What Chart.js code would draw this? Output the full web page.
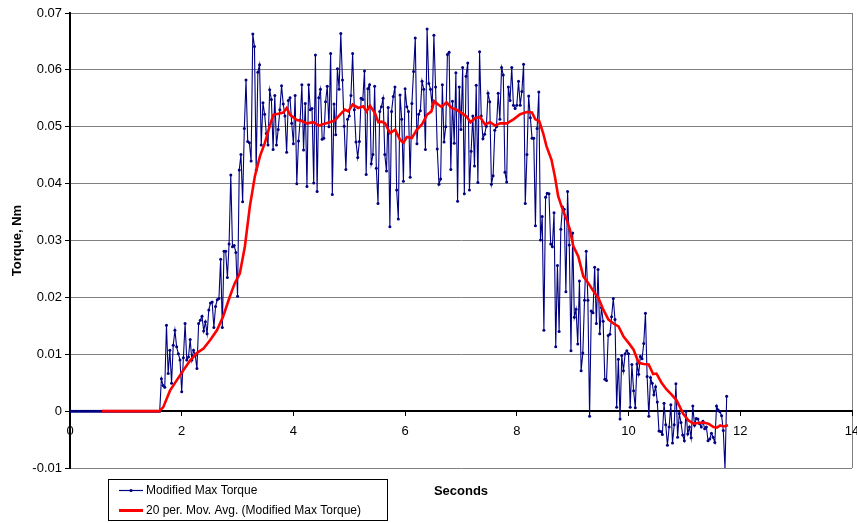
<!DOCTYPE html>
<html>
<head>
<meta charset="utf-8">
<script src="https://cdn.jsdelivr.net/npm/chart.js@4.4.1/dist/chart.umd.min.js"></script>
<style>
  html, body { margin: 0; padding: 0; background: #fff; }
  #wrap { width: 857px; height: 523px; }
</style>
</head>
<body>
<div id="wrap"><canvas id="torque-chart" width="857" height="523"></canvas></div>
<script>
// Sampling interval of the torque log (seconds per sample)
const sampleStep = 0.0303;

// Modified Max Torque, one value per sample (Nm)
const torqueValues = [
  // idle, before the load starts
  0, 0, 0, 0, 0, 0, 0, 0, 0, 0, 0, 0, 0, 0, 0, 0, 0, 0, 0, 0,
  0, 0, 0, 0, 0, 0, 0, 0, 0, 0, 0, 0, 0, 0, 0, 0, 0, 0, 0, 0,
  0, 0, 0, 0, 0, 0, 0, 0, 0, 0, 0, 0, 0, 0,
  // ramp up
  0.0057, 0.0045, 0.0042, 0.0151, 0.0066, 0.0107, 0.0049, 0.0116, 0.0142, 0.0113,
  0.0101, 0.009, 0.0034, 0.0094, 0.0154, 0.009, 0.0095, 0.0126, 0.009, 0.0107,
  0.0098, 0.0075, 0.0154, 0.016, 0.0167, 0.0141, 0.0157, 0.0136, 0.0178, 0.019,
  0.0192, 0.0147, 0.0184, 0.0196, 0.0198, 0.0267, 0.0147, 0.0281, 0.0281, 0.0235,
  0.0294, 0.0415, 0.0289, 0.0291, 0.0279, 0.0202, 0.0424, 0.0451, 0.0368, 0.0497,
  0.0582, 0.0474, 0.0472, 0.044, 0.0663, 0.0641, 0.0424, 0.0596, 0.0609, 0.0468,
  0.0542, 0.0522, 0.0488, 0.0468,
  // plateau, first half
  0.0565, 0.0548, 0.046, 0.0555, 0.0468, 0.0495, 0.053, 0.0572, 0.054, 0.0519,
  0.0455, 0.0546, 0.0551, 0.0506, 0.047, 0.0555, 0.04, 0.0475, 0.0512, 0.0574,
  0.0459, 0.0541, 0.0395, 0.0574, 0.053, 0.0532, 0.0401, 0.0626, 0.0386, 0.0551,
  0.0566, 0.0478, 0.048, 0.0544, 0.0571, 0.05, 0.0629, 0.0381, 0.054, 0.0486,
  0.0602, 0.0566, 0.0664, 0.0582, 0.0501, 0.0425, 0.0513, 0.0519, 0.0555, 0.0629,
  0.053, 0.0473, 0.0446, 0.0474, 0.055, 0.0548, 0.0598, 0.0416, 0.0567, 0.0574,
  0.0435, 0.0451, 0.0571, 0.0427, 0.0365, 0.0527, 0.0535, 0.055, 0.0451, 0.0422,
  0.0534, 0.0324, 0.0527, 0.0553, 0.057, 0.0389, 0.0338,
  // plateau, second half
  0.0556, 0.0513, 0.0404, 0.0567, 0.0535, 0.0527, 0.0411, 0.0541, 0.0597, 0.0656,
  0.047, 0.0522, 0.0528, 0.058, 0.0566, 0.046, 0.0672, 0.0576, 0.0566, 0.0535,
  0.0661, 0.057, 0.0461, 0.0399, 0.0408, 0.0574, 0.0473, 0.05, 0.0627, 0.0631,
  0.0425, 0.0545, 0.0471, 0.0595, 0.0369, 0.057, 0.0495, 0.0604, 0.0382, 0.0589,
  0.0612, 0.0389, 0.0457, 0.0519, 0.0431, 0.0573, 0.0402, 0.0632, 0.0519, 0.0479,
  0.0487, 0.0501, 0.0559, 0.0544, 0.0399, 0.0414, 0.0494, 0.05, 0.0559, 0.0513,
  0.0604, 0.0591, 0.042, 0.0403, 0.057, 0.0546, 0.0604, 0.0538, 0.0532, 0.0538,
  0.058, 0.0538, 0.0562, 0.061, 0.0365, 0.0451, 0.0554,
  // ramp down
  0.0516, 0.048, 0.048, 0.0326, 0.0497, 0.0561, 0.0301, 0.0342, 0.0142, 0.0376,
  0.0383, 0.0382, 0.0294, 0.0289, 0.0349, 0.0113, 0.0256, 0.014, 0.032, 0.0359,
  0.0355, 0.021, 0.0386, 0.0292, 0.0106, 0.0313, 0.0165, 0.0179, 0.0118, 0.0229,
  0.0071, 0.0102, 0.0195, 0.0281, 0.0195, -0.0009, 0.0176, 0.0173, 0.0253, 0.0154,
  0.0249, 0.0136, 0.0182, 0.0158, 0.0056, 0.0054, 0.0133, 0.0135, 0.0166, 0.0198,
  0.0161, 0.0007, 0.0091, -0.0014, 0.0098, 0.0071, 0.0101, 0.0106, 0.0101, 0.0007,
  0.0082, 0.0036, 0.0006, 0.0083,
  // tail
  0.0065, 0.0096, 0.0092, 0.0119, 0.0172, 0.0061, -0.0009, 0.0059, 0.0049, 0.0029,
  0.0043, 0.0016, -0.0035, -0.0036, -0.0041, 0.0014, -0.0024, -0.006, -0.0028, 0.0011,
  -0.0056, -0.0024, 0.0048, -0.0046, -0.0004, -0.002, -0.0042, -0.0052, 0, -0.004,
  -0.0028, -0.0047, 0.0009, -0.0025, -0.0013, -0.0014, -0.0022, -0.0028, -0.0018, -0.0031,
  -0.0028, -0.0052, -0.0049, -0.0039, -0.0046, -0.0055, 0.0009, 0.0002, -0.0001, -0.0008,
  -0.0034, -0.0102, 0.0026
];

// 20 per. moving average
const avgTimes = [
  0.57, 1.60, 1.67, 1.79, 1.91, 2.03, 2.15, 2.27, 2.39, 2.51,
  2.63, 2.74, 2.86, 2.95, 3.04, 3.13, 3.22, 3.31, 3.40, 3.49,
  3.58, 3.64, 3.73, 3.82, 3.88, 3.94, 4.06, 4.15, 4.24, 4.36,
  4.45, 4.54, 4.65, 4.74, 4.83, 4.92, 4.98, 5.06, 5.16, 5.25,
  5.31, 5.37, 5.46, 5.52, 5.58, 5.64, 5.73, 5.82, 5.91, 5.97,
  6.03, 6.12, 6.21, 6.30, 6.39, 6.47, 6.52, 6.59, 6.65, 6.74,
  6.83, 6.92, 7.01, 7.10, 7.17, 7.25, 7.34, 7.43, 7.52, 7.61,
  7.70, 7.82, 7.94, 8.06, 8.18, 8.27, 8.33, 8.40, 8.47, 8.53,
  8.62, 8.68, 8.74, 8.80, 8.89, 8.95, 9.01, 9.10, 9.19, 9.28,
  9.37, 9.46, 9.55, 9.64, 9.73, 9.82, 9.91, 10.00, 10.09, 10.18,
  10.27, 10.36, 10.44, 10.50, 10.59, 10.68, 10.77, 10.86, 10.92, 10.98,
  11.07, 11.16, 11.25, 11.34, 11.43, 11.52, 11.58, 11.64, 11.70, 11.78
];
const avgValues = [
  0, 0, 0.0007, 0.0036, 0.0054, 0.0072, 0.0089, 0.0102, 0.011, 0.0125,
  0.0142, 0.0166, 0.0201, 0.0225, 0.0242, 0.0289, 0.036, 0.0413, 0.0448, 0.0472,
  0.0503, 0.0521, 0.0523, 0.0525, 0.0533, 0.0521, 0.0512, 0.051, 0.0506, 0.0508,
  0.0502, 0.0505, 0.0508, 0.0511, 0.0521, 0.053, 0.0527, 0.0539, 0.0533, 0.0536,
  0.0527, 0.0537, 0.0524, 0.0508, 0.0509, 0.0506, 0.0489, 0.0495, 0.0477, 0.0472,
  0.0482, 0.048, 0.0495, 0.0504, 0.0521, 0.0527, 0.0545, 0.0539, 0.0535, 0.0543,
  0.0533, 0.053, 0.0524, 0.0518, 0.0508, 0.0515, 0.0517, 0.0504, 0.0508, 0.0502,
  0.0506, 0.0506, 0.0513, 0.0522, 0.0526, 0.0525, 0.0513, 0.051, 0.0489, 0.0466,
  0.0442, 0.0413, 0.0378, 0.036, 0.0337, 0.0319, 0.029, 0.0272, 0.0237, 0.0225,
  0.0211, 0.0199, 0.0178, 0.0161, 0.0154, 0.0149, 0.0131, 0.012, 0.0108, 0.0085,
  0.0083, 0.0082, 0.0065, 0.0066, 0.005, 0.0038, 0.0029, 0.0019, 0.0007, -0.0005,
  -0.0016, -0.0022, -0.0021, -0.002, -0.0022, -0.0028, -0.0029, -0.0025, -0.0027, -0.0025
];

const seriesNames = ['Modified Max Torque', '20 per. Mov. Avg. (Modified Max Torque)'];
const xTitle = 'Seconds';
const yTitle = 'Torque, Nm';

const FONT = '"Liberation Sans", Arial, sans-serif';
const NAVY = '#000080';
const RED = '#ff0000';

const torquePoints = torqueValues.map((v, i) => ({ x: i * sampleStep, y: v }));
const avgPoints = avgTimes.map((t, i) => ({ x: t, y: avgValues[i] }));

// x title + boxed legend under the plot, like the Excel original
const bottomDecor = {
    id: 'bottomDecor',
    afterDraw(chart) {
        const c = chart.ctx;
        const area = chart.chartArea;
        c.save();
        c.fillStyle = '#000';
        c.font = 'bold 13px ' + FONT;
        c.textAlign = 'center';
        c.textBaseline = 'middle';
        c.fillText(xTitle, (area.left + area.right) / 2, 491);

        // legend box
        c.strokeStyle = '#000';
        c.lineWidth = 1;
        c.strokeRect(108.5, 479.5, 279, 41);

        c.font = '12px ' + FONT;
        c.textAlign = 'left';
        // blue series sample
        c.strokeStyle = NAVY;
        c.lineWidth = 1.2;
        c.beginPath(); c.moveTo(119, 490.5); c.lineTo(143, 490.5); c.stroke();
        c.fillStyle = NAVY;
        c.beginPath(); c.arc(131, 490.5, 1.6, 0, Math.PI * 2); c.fill();
        c.fillStyle = '#000';
        c.fillText(seriesNames[0], 146, 491);
        // red series sample
        c.strokeStyle = RED;
        c.lineWidth = 3;
        c.beginPath(); c.moveTo(119, 510.5); c.lineTo(143, 510.5); c.stroke();
        c.fillText(seriesNames[1], 146, 511);
        c.restore();
    }
};

const ctx = document.getElementById('torque-chart');
const chart = new Chart(ctx, {
    type: 'scatter',
    data: {
        datasets: [{
            label: seriesNames[0],
            data: torquePoints,
            showLine: true,
            borderColor: NAVY,
            backgroundColor: NAVY,
            borderWidth: 1.1,
            pointRadius: 1.5,
            pointBorderWidth: 0,
            order: 2
        }, {
            label: seriesNames[1],
            data: avgPoints,
            showLine: true,
            borderColor: RED,
            borderWidth: 2.6,
            pointRadius: 0,
            order: 1
        }]
    },
    options: {
        responsive: false,
        animation: false,
        devicePixelRatio: 1,
        layout: { padding: { left: 0, right: 5, top: 13, bottom: 55 } },
        plugins: {
            legend: { display: false },
            tooltip: { enabled: false }
        },
        scales: {
            x: {
                type: 'linear',
                min: 0,
                max: 14,
                position: { y: 0 },
                ticks: {
                    stepSize: 2,
                    maxRotation: 0,
                    color: '#000',
                    padding: 8,
                    font: { family: FONT, size: 13 }
                },
                grid: {
                    color: c => (c.tick && c.tick.value === 14) ? '#808080' : 'rgba(0,0,0,0)',
                    tickColor: '#000',
                    tickLength: 4,
                    lineWidth: 1
                },
                border: { display: true, color: '#000', width: 2 },
                afterFit: s => { s.paddingLeft = 0; s.paddingRight = 0; }
            },
            y: {
                min: -0.01,
                max: 0.07,
                ticks: {
                    stepSize: 0.01,
                    color: '#000',
                    padding: 3,
                    font: { family: FONT, size: 13 },
                    callback: v => {
                        const r = Math.round(v * 100) / 100;
                        return r === 0 ? '0' : r.toFixed(2);
                    }
                },
                grid: {
                    color: '#808080',
                    tickColor: '#000',
                    tickLength: 5,
                    lineWidth: 1
                },
                border: { display: true, color: '#000', width: 2 },
                title: {
                    display: true,
                    text: yTitle,
                    color: '#000',
                    font: { family: FONT, size: 13, weight: 'bold' },
                    padding: { top: 10, bottom: 0 }
                },
                afterFit: s => { s.width = 70; }
            }
        }
    },
    plugins: [bottomDecor]
});
</script>
</body>
</html>
